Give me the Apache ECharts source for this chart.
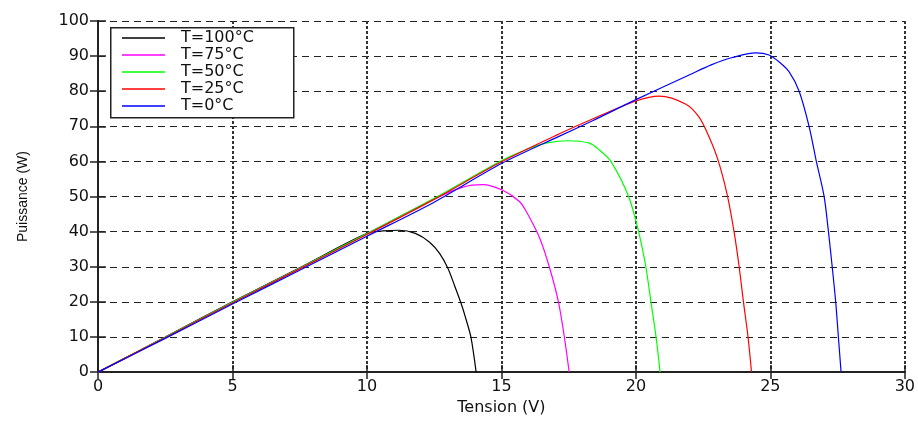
<!DOCTYPE html>
<html>
<head>
<meta charset="utf-8">
<script src="https://cdn.jsdelivr.net/npm/echarts@6/dist/echarts.min.js"></script>
<style>
html,body{margin:0;padding:0;background:#fff;overflow:hidden;width:100%;height:100%;}
#chart{width:918px;height:421px;}
</style>
</head>
<body>
<div id="chart"></div>
<script>
// ---- Data ----
const seriesNames = ['T=100°C', 'T=75°C', 'T=50°C', 'T=25°C', 'T=0°C'];
const seriesColors = ['#000000', '#ff00ff', '#00ff00', '#ff0000', '#0000ff'];

const vT100 = [0, 2.5, 5, 7.5, 10, 10.6, 11.2, 11.8, 12.33, 12.7, 13.01, 13.26, 13.5, 13.69, 13.87, 14.06];
const pT100 = [0, 10, 20, 29.7, 39.5, 40.2, 40.4, 39.5, 37.0, 33.8, 29.6, 24.6, 19.6, 14.9, 9.8, 0];

const vT75 = [0, 2.5, 5, 7.5, 10, 12.5, 13.57, 14.3, 15.05, 15.67, 15.92, 16.41, 16.78, 17.12, 17.34, 17.52];
const pT75 = [0, 9.9, 19.9, 29.6, 39.4, 49.3, 52.7, 53.4, 51.8, 48.6, 45.8, 38.4, 30.0, 20, 10, 0];

const vT50 = [0, 2.5, 5, 7.5, 10, 12.5, 15, 16.0, 16.66, 17.5, 18.27, 18.64, 19.07, 19.73, 20.10, 20.37, 20.56, 20.75, 20.9];
const pT50 = [0, 9.9, 19.9, 29.6, 39.5, 49.5, 60.2, 63.6, 65.2, 65.9, 65.2, 63.3, 60, 50, 40, 30, 20, 10, 0];

const vT25 = [0, 2.5, 5, 7.5, 10, 12.5, 15, 17.16, 18.39, 20.0, 20.87, 21.86, 22.35, 22.72, 23.07, 23.41, 23.65, 23.84, 24.0, 24.17, 24.3];
const pT25 = [0, 9.8, 19.7, 29.4, 39.2, 49.2, 59.9, 67.9, 72.1, 77.2, 78.6, 76.3, 72.6, 67, 60, 50, 40, 30, 20, 10, 0];

const vT0 = [0, 2.5, 5, 7.5, 10, 12.5, 15, 17.16, 18.39, 20.0, 21.98, 22.8, 23.59, 24.46, 24.95, 25.33, 25.7, 26.07, 26.44, 26.71, 27.0, 27.16, 27.3, 27.43, 27.53, 27.63];
const pT0 = [0, 9.6, 19.4, 29.0, 38.7, 48.4, 59.4, 67.2, 71.6, 77.6, 84.6, 87.5, 89.6, 90.9, 90.3, 88.3, 85.5, 80, 70, 60, 50, 40, 30, 20, 10, 0];

const xTicks = { min: 0, max: 30, interval: 5 };
const yTicks = { min: 0, max: 100, interval: 10 };

const volts = [vT100, vT75, vT50, vT25, vT0];
const powers = [pT100, pT75, pT50, pT25, pT0];

// ---- Chart ----
const chart = echarts.init(document.getElementById('chart'), null, { renderer: 'canvas' });
const axisColor = '#222';
const labelFont = { fontFamily: 'DejaVu Sans', fontSize: 16, color: '#111' };

const series = seriesNames.map((name, i) => ({
  name: name,
  type: 'line',
  data: volts[i].map((v, k) => [v, powers[i][k]]),
  symbol: 'none',
  smooth: 0.3,
  lineStyle: { color: seriesColors[i], width: 1.2 },
  itemStyle: { color: seriesColors[i] },
  z: 2
}));

chart.setOption({
  animation: false,
  backgroundColor: '#ffffff',
  grid: { left: 98, right: 12, top: 21, bottom: 39 },
  xAxis: [{
    type: 'value', min: xTicks.min, max: xTicks.max, interval: xTicks.interval,
    name: 'Tension (V)', nameLocation: 'middle', nameGap: 23,
    nameTextStyle: { fontFamily: 'DejaVu Sans', fontSize: 16, color: '#111' },
    axisLine: { show: true, lineStyle: { color: axisColor, width: 2 } },
    axisTick: { show: true, inside: true, length: 7, lineStyle: { color: axisColor, width: 1.5 } },
    axisLabel: Object.assign({ margin: 7 }, labelFont),
    splitLine: { show: true, lineStyle: { color: '#333', width: 2, type: [3, 2] } }
  }, {
    type: 'value', position: 'top', min: xTicks.min, max: xTicks.max, interval: xTicks.interval,
    axisLine: { show: true, lineStyle: { color: axisColor, width: 2 } },
    axisTick: { show: true, inside: true, length: 7, lineStyle: { color: axisColor, width: 1.5 } },
    axisLabel: { show: false }, splitLine: { show: false }
  }],
  yAxis: [{
    type: 'value', min: yTicks.min, max: yTicks.max, interval: yTicks.interval,
    name: 'Puissance (W)', nameLocation: 'middle', nameGap: 68, nameRotate: 90,
    nameTextStyle: { fontFamily: 'Liberation Sans', fontSize: 14, color: '#111' },
    axisLine: { show: true, lineStyle: { color: axisColor, width: 2 } },
    axisTick: { show: true, inside: true, length: 8, lineStyle: { color: axisColor, width: 1.5 } },
    axisLabel: Object.assign({ margin: 9 }, labelFont),
    splitLine: { show: true, lineStyle: { color: '#222', width: 1.2, type: [7, 5] } }
  }, {
    type: 'value', position: 'right', min: yTicks.min, max: yTicks.max, interval: yTicks.interval,
    axisLine: { show: true, lineStyle: { color: axisColor, width: 2 } },
    axisTick: { show: true, inside: true, length: 8, lineStyle: { color: axisColor, width: 1.5 } },
    axisLabel: { show: false }, splitLine: { show: false }
  }],
  graphic: [{
    type: 'rect', left: 110, top: 27, z: 3,
    shape: { width: 183, height: 90 },
    style: { fill: '#ffffff', stroke: '#222', lineWidth: 1.5 }
  }],
  legend: {
    data: seriesNames,
    orient: 'vertical',
    left: 117, top: 30, z: 4,
    padding: [0, 5, 0, 5],
    icon: 'rect',
    itemWidth: 43, itemHeight: 1.5,
    itemGap: 1,
    textStyle: { fontFamily: 'DejaVu Sans', fontSize: 16, lineHeight: 16, color: '#111', padding: [0, 0, 0, 11] }
  },
  series: series
});
</script>
</body>
</html>
